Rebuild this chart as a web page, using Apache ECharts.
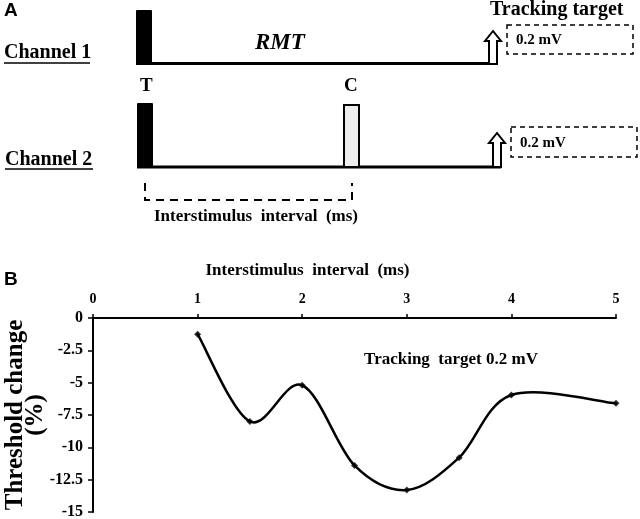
<!DOCTYPE html>
<html>
<head>
<meta charset="utf-8">
<script src="https://cdn.jsdelivr.net/npm/echarts@6/dist/echarts.min.js"></script>
<style>html,body{margin:0;padding:0;background:#fff}#c{width:640px;height:519px}</style>
</head>
<body>
<div id="c"></div>
<script>
// ---- data (panel B) ----
const isi = [1, 1.5, 2, 2.5, 3, 3.5, 4, 5];
const thresholdChange = [-1.25, -8.0, -5.2, -11.4, -13.3, -10.8, -5.95, -6.6];
const xTicks = [0, 1, 2, 3, 4, 5];
const yTicks = [0, -2.5, -5, -7.5, -10, -12.5, -15];

const serif = '"Liberation Serif", "Times New Roman", serif';
const sans = '"Liberation Sans", Arial, sans-serif';

const chart = echarts.init(document.getElementById('c'), null, {renderer: 'canvas'});

function arrow(cx, top, bottom) {
  return {
    type: 'polygon',
    shape: {points: [[cx-4, bottom], [cx-4, top+10], [cx-8, top+10], [cx, top], [cx+8, top+10], [cx+4, top+10], [cx+4, bottom]]},
    style: {fill: '#fff', stroke: '#000', lineWidth: 2}
  };
}
function txt(x, y, text, size, opts) {
  return {
    type: 'text', x: x, y: y,
    style: Object.assign({text: text, font: 'bold ' + size + 'px ' + serif, fill: '#000', textAlign: 'left', textVerticalAlign: 'middle'}, opts || {})
  };
}

const graphics = [
  txt(4, 11, 'A', 19, {font: 'bold 19px ' + sans}),
  txt(4, 280, 'B', 19, {font: 'bold 19px ' + sans}),
  // Channel 1
  txt(4, 53, 'Channel 1', 20),
  {type: 'line', shape: {x1: 4, y1: 63, x2: 90, y2: 63}, style: {stroke: '#000', lineWidth: 1.5}},
  {type: 'rect', shape: {x: 136, y: 10, width: 16, height: 55, r: 1}, style: {fill: '#000'}},
  {type: 'line', shape: {x1: 136, y1: 63.5, x2: 497, y2: 63.5}, style: {stroke: '#000', lineWidth: 3}},
  txt(255, 43, 'RMT', 23, {font: 'italic bold 23px ' + serif}),
  arrow(493, 31, 64),
  {type: 'rect', shape: {x: 507, y: 25, width: 126, height: 29}, style: {fill: 'none', stroke: '#000', lineWidth: 1.5, lineDash: [5, 4]}},
  txt(516, 40, '0.2 mV', 15),
  txt(490, 10, 'Tracking target', 20, {shadowBlur: 2, shadowColor: 'rgba(0,0,0,0.45)', shadowOffsetX: 1, shadowOffsetY: 1}),
  // Channel 2
  txt(140, 86, 'T', 19),
  txt(344, 86, 'C', 19),
  txt(5, 160, 'Channel 2', 20),
  {type: 'line', shape: {x1: 5, y1: 169, x2: 93, y2: 169}, style: {stroke: '#000', lineWidth: 1.5}},
  {type: 'rect', shape: {x: 137, y: 103, width: 16, height: 65, r: 1}, style: {fill: '#000'}},
  {type: 'line', shape: {x1: 137, y1: 167, x2: 501, y2: 167}, style: {stroke: '#000', lineWidth: 3}},
  {type: 'rect', shape: {x: 344, y: 105, width: 15, height: 62}, style: {fill: '#eeeeee', stroke: '#000', lineWidth: 2}},
  arrow(497, 133, 167),
  {type: 'rect', shape: {x: 511, y: 127, width: 126, height: 30}, style: {fill: 'none', stroke: '#000', lineWidth: 1.5, lineDash: [5, 4]}},
  txt(520, 143, '0.2 mV', 15),
  {type: 'polyline', shape: {points: [[145, 183], [145, 200], [352, 200], [352, 183]]}, style: {stroke: '#000', lineWidth: 2, lineDash: [8, 6], fill: 'none'}},
  txt(256, 217, 'Interstimulus  interval  (ms)', 17, {textAlign: 'center'}),
  txt(451, 360, 'Tracking  target 0.2 mV', 17, {textAlign: 'center'})
];

// Catmull-Rom style smooth curve through the data, positioned by the axes (api.coord)
function renderCurve(params, api) {
  const i = params.dataIndex;
  const n = isi.length;
  if (i >= n - 1) return null;
  const P = k => api.coord([isi[Math.max(0, Math.min(n - 1, k))], thresholdChange[Math.max(0, Math.min(n - 1, k))]]);
  const p0 = P(i - 1), p1 = P(i), p2 = P(i + 1), p3 = P(i + 2);
  const t = 1 / 6;
  return {
    type: 'bezierCurve',
    shape: {
      x1: p1[0], y1: p1[1], x2: p2[0], y2: p2[1],
      cpx1: p1[0] + (p2[0] - p0[0]) * t, cpy1: p1[1] + (p2[1] - p0[1]) * t,
      cpx2: p2[0] - (p3[0] - p1[0]) * t, cpy2: p2[1] - (p3[1] - p1[1]) * t
    },
    style: {stroke: '#000', lineWidth: 2.5, fill: null, lineCap: 'round'}
  };
}

chart.setOption({
  animation: false,
  backgroundColor: '#fff',
  graphic: graphics,
  grid: {left: 93, right: 24, top: 318, bottom: 7, containLabel: false, outerBoundsMode: 'none'},
  xAxis: {
    type: 'value', position: 'top', min: 0, max: 5, interval: 1,
    name: 'Interstimulus  interval  (ms)', nameLocation: 'middle', nameGap: 39, nameMoveOverlap: false,
    nameTextStyle: {fontFamily: serif, fontWeight: 'bold', fontSize: 17, color: '#000', padding: [0, 94, 0, 0]},
    axisLine: {onZero: false, lineStyle: {color: '#000', width: 2}},
    axisTick: {show: true, inside: false, length: 4, lineStyle: {color: '#000', width: 1.5}},
    axisLabel: {margin: 12, color: '#000', fontFamily: serif, fontWeight: 'bold', fontSize: 14,
      customValues: xTicks},
    splitLine: {show: false}
  },
  yAxis: {
    type: 'value', min: -15, max: 0, interval: 2.5,
    name: 'Threshold change\n(%)', nameLocation: 'middle', nameGap: 47, nameRotate: 90, nameMoveOverlap: false,
    nameTextStyle: {fontFamily: serif, fontWeight: 'bold', fontSize: 25, color: '#000', lineHeight: 20},
    axisLine: {onZero: false, lineStyle: {color: '#000', width: 2}},
    axisTick: {show: true, length: 5, lineStyle: {color: '#000', width: 1.5}},
    axisLabel: {margin: 10, color: '#000', fontFamily: serif, fontWeight: 'bold', fontSize: 16,
      customValues: yTicks},
    splitLine: {show: false}
  },
  series: [{
    type: 'custom',
    data: isi.map((x, i) => [x, thresholdChange[i]]),
    renderItem: renderCurve,
    clip: false,
    silent: true
  }, {
    type: 'scatter',
    data: isi.map((x, i) => [x, thresholdChange[i]]),
    symbol: 'diamond', symbolSize: 7,
    itemStyle: {color: '#000'}
  }]
});
</script>
</body>
</html>
